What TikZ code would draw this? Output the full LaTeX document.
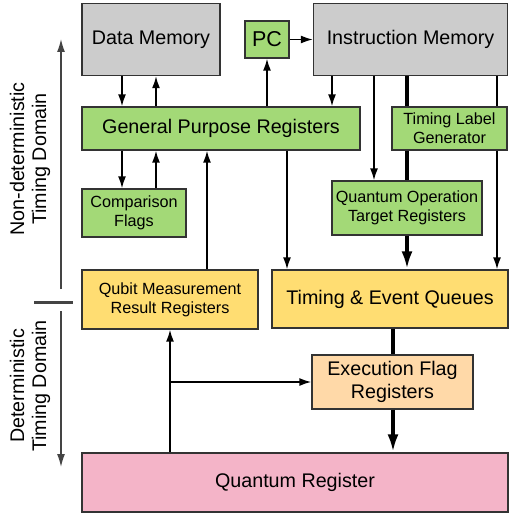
\documentclass[tikz,border=0pt]{standalone}
\usepackage{fontspec}
\setmainfont{Liberation Sans}
\usepackage{tikz}
\usetikzlibrary{arrows.meta,positioning,calc}

\definecolor{memgray}{HTML}{CCCCCC}
\definecolor{reggreen}{HTML}{A3D977}
\definecolor{queueyellow}{HTML}{FFDD72}
\definecolor{flagorange}{HTML}{FFD9A8}
\definecolor{qupink}{HTML}{F4B4C8}
\definecolor{boxline}{HTML}{333333}
\definecolor{axisgray}{HTML}{444444}

\begin{document}
\begin{tikzpicture}[x=1pt, y=-1pt,
  box/.style={draw=boxline, line width=1.4pt, align=center, inner sep=0pt,
    font=\fontsize{19.7}{23.5}\selectfont},
  smallbox/.style={box, font=\fontsize{16.2}{19}\selectfont},
  flow/.style={-{Latex[length=12pt,width=8pt]}, line width=1.5pt},
  bigflow/.style={-{Latex[length=18pt,width=11pt]}, line width=4.6pt},
  axis/.style={-{Latex[length=13pt,width=8pt]}, draw=axisgray, line width=1.4pt}]
  \useasboundingbox (0,0) rectangle (509,516);

  % memories and program counter
  \node[box, fill=memgray, minimum width=138pt, minimum height=72pt] (dmem) at (151,39.5) {Data Memory};
  \node[box, fill=reggreen, minimum width=44pt, minimum height=37pt,
    font=\fontsize{21.5}{25}\selectfont] (pc) at (267,39.5) {PC};
  \node[box, fill=memgray, minimum width=194pt, minimum height=72pt] (imem) at (410.5,39.5) {Instruction Memory};

  % register blocks (non-deterministic side)
  \node[box, fill=reggreen, minimum width=278pt, minimum height=43pt] (gpr) at (221,128.5) {General Purpose Registers};
  \node[smallbox, fill=reggreen, minimum width=115pt, minimum height=43pt] (tlg) at (449.5,128.5) {Timing Label\\Generator};
  \node[smallbox, fill=reggreen, minimum width=104pt, minimum height=48pt] (cmpf) at (134,213) {Comparison\\Flags};
  \node[smallbox, fill=reggreen, minimum width=150pt, minimum height=54pt] (qotr) at (407,208) {Quantum Operation\\Target Registers};

  % deterministic side
  \node[smallbox, fill=queueyellow, minimum width=176pt, minimum height=59pt] (qmrr) at (170,299.5) {Qubit Measurement\\Result Registers};
  \node[box, fill=queueyellow, minimum width=236pt, minimum height=58pt] (teq) at (390,299) {Timing \& Event Queues};
  \node[box, fill=flagorange, minimum width=161pt, minimum height=54pt] (efr) at (392.5,382) {Execution Flag\\Registers};
  \node[box, fill=qupink, minimum width=426pt, minimum height=59pt] (qreg) at (295,482.5) {Quantum Register};

  % columns for the vertical connectors
  \coordinate (xa) at (122,0);
  \coordinate (xb) at (156,0);
  \coordinate (xc) at (207,0);
  \coordinate (xe) at (332,0);
  \coordinate (xf) at (374,0);
  \coordinate (xg) at (407,0);
  \coordinate (xh) at (497,0);
  \coordinate (xi) at (287,0);
  \coordinate (xj) at (393,0);

  \draw[flow] (dmem.south -| xa) -- (gpr.north -| xa);
  \draw[flow] (gpr.north -| xb) -- (dmem.south -| xb);
  \draw[flow] (gpr.south -| xa) -- (cmpf.north -| xa);
  \draw[flow] (cmpf.north -| xb) -- (gpr.south -| xb);
  \draw[flow] (qmrr.north -| xc) -- (gpr.south -| xc);
  \draw[flow] (gpr.north -| pc.south) -- (pc.south);
  \draw[flow] (pc.east) -- (imem.west);
  \draw[flow] (imem.south -| xe) -- (gpr.north -| xe);
  \draw[flow] (imem.south -| xf) -- (qotr.north -| xf);
  \draw[flow] (gpr.south -| xi) -- (teq.north -| xi);
  \draw[line width=1.5pt] (imem.south -| xh) -- (tlg.north -| xh);
  \draw[flow] (tlg.south -| xh) -- (teq.north -| xh);

  % thick instruction path
  \draw[line width=4.6pt] (imem.south -| xg) -- (tlg.north -| xg);
  \draw[line width=4.6pt] (tlg.south -| xg) -- (qotr.north -| xg);
  \draw[bigflow] (qotr.south -| xg) -- (teq.north -| xg);
  \draw[line width=4.6pt] (teq.south -| xj) -- (efr.north -| xj);
  \draw[bigflow] (efr.south -| xj) -- (qreg.north -| xj);

  % measurement feedback
  \draw[flow] (qreg.north -| qmrr.south) -- (qmrr.south);
  \draw[flow] (qmrr.south |- efr.west) -- (efr.west);

  % timing domains
  \draw[axis] (61,289) -- (61,39);
  \draw[axis] (61,311) -- (61,467);
  \draw[draw=axisgray, line width=3pt] (34,302) -- (73,302);
  \node[rotate=90, align=center, font=\fontsize{19.7}{22}\selectfont] (ndlabel) at (30,159) {Non-deterministic\\Timing Domain};
  \node[rotate=90, align=center, font=\fontsize{19.7}{22}\selectfont] (dlabel) at (30,386) {Deterministic\\Timing Domain};
\end{tikzpicture}
\end{document}
